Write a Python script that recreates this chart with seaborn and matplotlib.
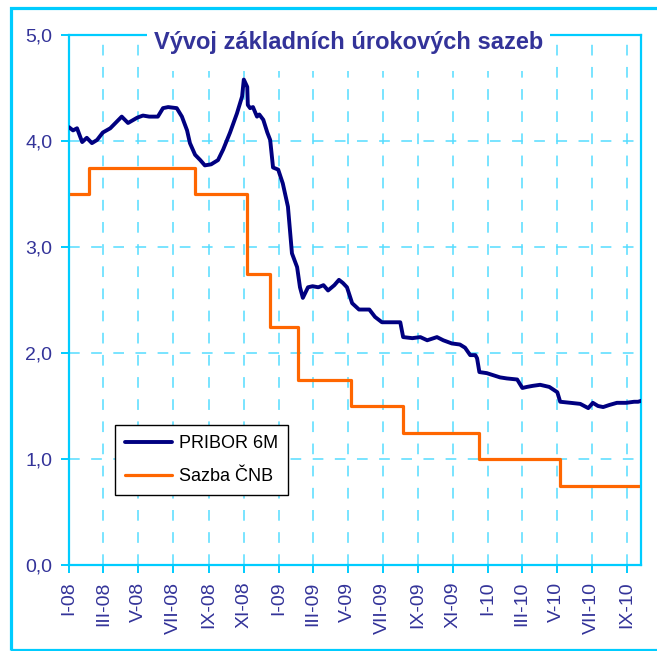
import pandas as pd
import matplotlib
matplotlib.use('Agg')
import matplotlib.pyplot as plt
from matplotlib import font_manager
from matplotlib.patches import Rectangle
import seaborn as sns

# PRIBOR 6M
pribor_datum = [
    '2008-01-01', '2008-01-08', '2008-01-15', '2008-01-24', '2008-02-01', '2008-02-10',
    '2008-02-19', '2008-02-29', '2008-03-13', '2008-04-02', '2008-04-13', '2008-04-29',
    '2008-05-09', '2008-05-20', '2008-06-04', '2008-06-13', '2008-06-22', '2008-07-07',
    '2008-07-16', '2008-07-25', '2008-07-30', '2008-08-08', '2008-08-17', '2008-08-25',
    '2008-09-05', '2008-09-17', '2008-09-26', '2008-10-08', '2008-10-20', '2008-10-29',
    '2008-11-01', '2008-11-07', '2008-11-08', '2008-11-12', '2008-11-17', '2008-11-24',
    '2008-11-28', '2008-12-05', '2008-12-12', '2008-12-17', '2008-12-22', '2008-12-31',
    '2009-01-08', '2009-01-17', '2009-01-24', '2009-02-02', '2009-02-07', '2009-02-12',
    '2009-02-21', '2009-03-01', '2009-03-11', '2009-03-20', '2009-03-28', '2009-04-08',
    '2009-04-16', '2009-04-23', '2009-04-30', '2009-05-09', '2009-05-21', '2009-06-08',
    '2009-06-18', '2009-06-30', '2009-08-01', '2009-08-06', '2009-08-22', '2009-09-05',
    '2009-09-17', '2009-10-04', '2009-10-15', '2009-10-30', '2009-11-13', '2009-11-22',
    '2009-12-01', '2009-12-10', '2009-12-13', '2009-12-17', '2009-12-30', '2010-01-22',
    '2010-02-03', '2010-02-21', '2010-03-02', '2010-03-10', '2010-03-20', '2010-04-02',
    '2010-04-18', '2010-05-02', '2010-05-07', '2010-05-25', '2010-06-11', '2010-06-18',
    '2010-06-25', '2010-07-03', '2010-07-12', '2010-07-21', '2010-08-01', '2010-08-14',
    '2010-08-30', '2010-09-13', '2010-09-20', '2010-09-26',
]
pribor_sazba = [
    4.13, 4.10, 4.12, 3.99, 4.03, 3.98,
    4.01, 4.08, 4.12, 4.23, 4.17, 4.22,
    4.24, 4.23, 4.23, 4.31, 4.32, 4.31,
    4.23, 4.10, 3.98, 3.87, 3.82, 3.77,
    3.78, 3.82, 3.92, 4.08, 4.26, 4.42,
    4.58, 4.51, 4.34, 4.31, 4.32, 4.23,
    4.25, 4.20, 4.08, 4.01, 3.75, 3.73,
    3.60, 3.38, 2.94, 2.81, 2.62, 2.52,
    2.62, 2.63, 2.62, 2.64, 2.59, 2.64,
    2.69, 2.66, 2.62, 2.47, 2.41, 2.41,
    2.34, 2.29, 2.29, 2.15, 2.14, 2.15,
    2.12, 2.15, 2.12, 2.09, 2.08, 2.05,
    1.98, 1.98, 1.95, 1.82, 1.81, 1.77,
    1.76, 1.75, 1.67, 1.68, 1.69, 1.70,
    1.68, 1.63, 1.54, 1.53, 1.52, 1.50,
    1.48, 1.53, 1.50, 1.49, 1.51, 1.53,
    1.53, 1.54, 1.54, 1.55,
]

# Sazba CNB (2T repo) - schody
cnb_datum = ['2008-01-01', '2008-02-05', '2008-08-07', '2008-11-06', '2008-12-16',
             '2009-02-04', '2009-05-07', '2009-08-05', '2009-12-16', '2010-05-06',
             '2010-09-26']
cnb_sazba = [3.50, 3.75, 3.50, 2.75, 2.25, 1.75, 1.50, 1.25, 1.00, 0.75, 0.75]

popisky_x = ['I-08', 'III-08', 'V-08', 'VII-08', 'IX-08', 'XI-08',
             'I-09', 'III-09', 'V-09', 'VII-09', 'IX-09', 'XI-09',
             'I-10', 'III-10', 'V-10', 'VII-10', 'IX-10']
popisky_y = ['0,0', '1,0', '2,0', '3,0', '4,0', '5,0']

df_pribor = pd.DataFrame({'Datum': pd.to_datetime(pribor_datum), 'Sazba': pribor_sazba})
df_cnb = pd.DataFrame({'Datum': pd.to_datetime(cnb_datum), 'Sazba': cnb_sazba})

sns.set_theme(style='white')
plt.rcParams['font.family'] = ['Liberation Sans', 'DejaVu Sans']

nazvy = {f.name for f in font_manager.fontManager.ttflist}
if 'Liberation Sans Narrow' in nazvy:
    font_titulek, vel_titulek = 'Liberation Sans Narrow', 20
else:
    font_titulek, vel_titulek = 'Liberation Sans', 17

cyan = '#00ccff'
modra_text = '#333399'

fig = plt.figure(figsize=(6.57, 6.51), dpi=100)
ax = fig.add_axes([69 / 657, 1 - 565 / 651, (641 - 69) / 657, (565 - 35) / 651])

sns.lineplot(data=df_pribor, x='Datum', y='Sazba', ax=ax, color='#000080',
             linewidth=2.8, label='PRIBOR 6M', zorder=3)
sns.lineplot(data=df_cnb, x='Datum', y='Sazba', ax=ax, color='#ff6600',
             linewidth=2.3, drawstyle='steps-post', label='Sazba ČNB', zorder=2)

ticks_x = pd.date_range('2008-01-01', periods=len(popisky_x), freq='2MS')
ax.set_xticks(ticks_x)
ax.set_xticklabels(popisky_x, rotation=90)
ax.set_yticks([0, 1, 2, 3, 4, 5])
ax.set_yticklabels(popisky_y)
ax.set_xlim(pd.Timestamp('2008-01-01'), pd.Timestamp('2010-09-25'))
ax.set_ylim(0, 5)
ax.set_xlabel('')
ax.set_ylabel('')

ax.set_axisbelow(True)
ax.grid(True, color='#55ddff', linestyle=(0, (7, 7.5)), linewidth=1.1)
for s in ax.spines.values():
    s.set_color(cyan)
    s.set_linewidth(1.6)
    s.set_visible(True)
ax.tick_params(axis='both', direction='out', length=6, width=1.4, color=cyan,
               labelcolor=modra_text, labelsize=14, pad=6, bottom=True, left=True)

leg = ax.legend(loc='lower left', bbox_to_anchor=(0.08, 0.132), borderaxespad=0,
                frameon=True, fancybox=False, edgecolor='black', framealpha=1,
                fontsize=13, handlelength=2.6, handletextpad=0.4, labelspacing=0.9,
                borderpad=0.55)
leg.get_frame().set_linewidth(1.0)
for t in leg.get_texts():
    t.set_color('black')

# bily podklad titulku prekryva mrizku
fig.add_artist(Rectangle((147 / 657, 1 - 71 / 651), (550 - 147) / 657, 50 / 651,
                         transform=fig.transFigure, facecolor='white',
                         edgecolor='none', zorder=5))
fig.text(349 / 657, 1 - 42 / 651, 'Vývoj základních úrokových sazeb',
         ha='center', va='center', fontsize=vel_titulek, fontweight='bold',
         color=modra_text, family=[font_titulek, 'DejaVu Sans'], zorder=6)

# ramecek kolem grafu
fig.add_artist(Rectangle((11 / 657, 1 / 651), 1.2, 1 - 9 / 651, transform=fig.transFigure,
                         fill=False, edgecolor=cyan, linewidth=2.3, clip_on=False))

plt.savefig('out.png', dpi=100)
